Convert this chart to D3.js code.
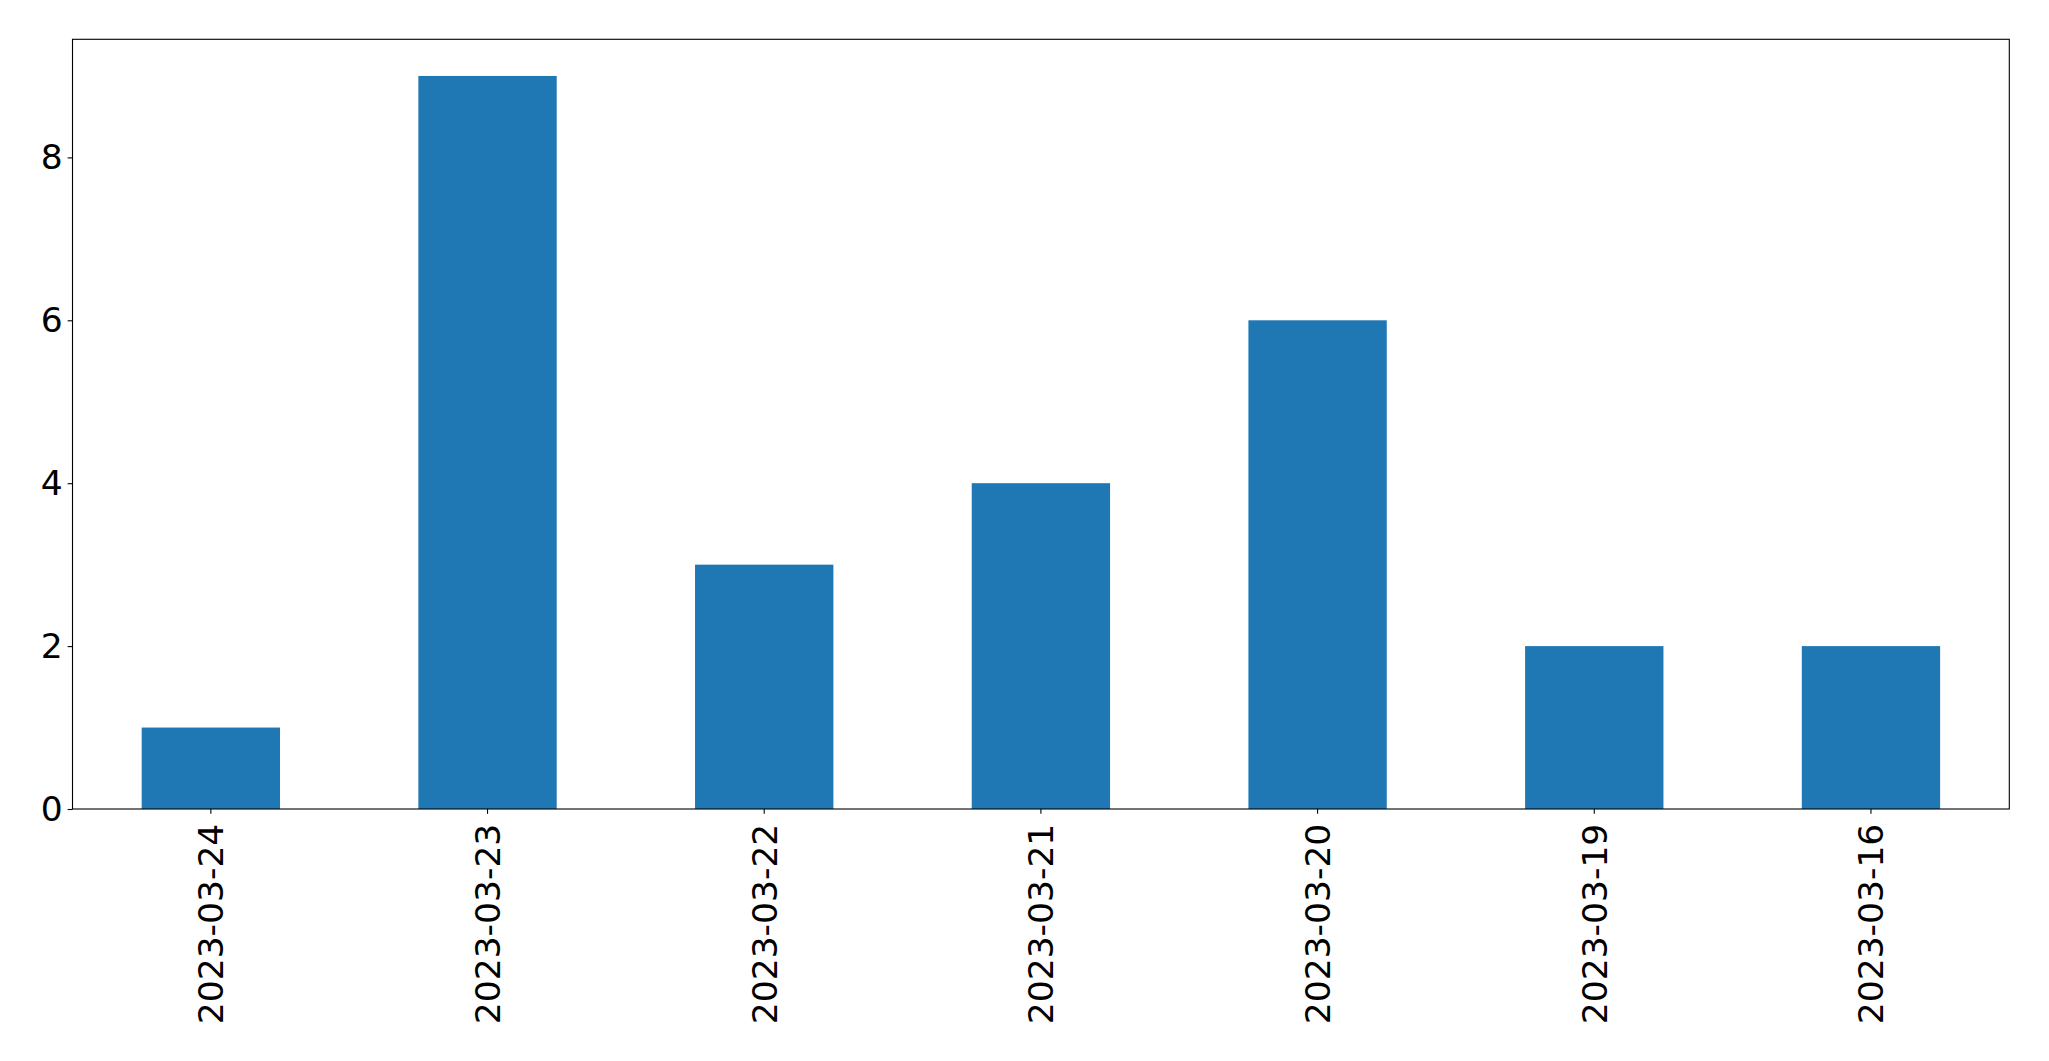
<!DOCTYPE html>
<html><head><meta charset="utf-8">
<script src="https://cdn.jsdelivr.net/npm/d3@7"></script>
<style>body{margin:0;background:#fff;} svg{display:block;}</style>
</head><body>
<svg id="chart" width="2049" height="1061"></svg>
<script>
const categories = ["2023-03-24","2023-03-23","2023-03-22","2023-03-21","2023-03-20","2023-03-19","2023-03-16"];
const values = [1, 9, 3, 4, 6, 2, 2];
const yTicks = [0, 2, 4, 6, 8];

const W = 2049, H = 1061;
const m = {left: 72.5, right: W - 2009.3, top: 39.3, bottom: H - 809};
const svg = d3.select("#chart");
const pw = W - m.left - m.right, ph = H - m.top - m.bottom;
const g = svg.append("g").attr("transform", `translate(${m.left},${m.top})`);

const x = d3.scaleBand().domain(categories).range([0, pw]).paddingInner(0.5).paddingOuter(0.25);
const y = d3.scaleLinear().domain([0, d3.max(values) * 1.05]).range([ph, 0]);

g.selectAll("rect.bar").data(values).join("rect")
  .attr("class", "bar")
  .attr("x", (d, i) => x(categories[i]))
  .attr("width", x.bandwidth())
  .attr("y", d => y(d))
  .attr("height", d => y(0) - y(d))
  .attr("fill", "#1f77b4");

const font = "'DejaVu Sans', sans-serif";
const fs = 34.5;
const tickLen = 4.86, pad = 4.86;

const yAxis = g.append("g").call(d3.axisLeft(y).tickValues(yTicks).tickSize(tickLen).tickPadding(pad).tickFormat(d3.format("d")));
yAxis.select(".domain").remove();
yAxis.selectAll("line").attr("stroke", "#000").attr("stroke-width", 1.1);
yAxis.selectAll("text").attr("font-family", font).attr("font-size", fs).attr("fill", "#000");

const xAxis = g.append("g").attr("transform", `translate(0,${ph})`)
  .call(d3.axisBottom(x).tickSize(tickLen).tickPadding(pad));
xAxis.select(".domain").remove();
xAxis.selectAll("line").attr("stroke", "#000").attr("stroke-width", 1.1);
xAxis.selectAll("text")
  .attr("font-family", font).attr("font-size", fs).attr("fill", "#000")
  .attr("transform", "rotate(-90)")
  .attr("text-anchor", "end")
  .attr("x", -(tickLen + pad + 5))
  .attr("y", 0)
  .attr("dy", "0.36em");

g.append("rect").attr("x", 0).attr("y", 0).attr("width", pw).attr("height", ph)
  .attr("fill", "none").attr("stroke", "#000").attr("stroke-width", 1.1);
</script>
</body></html>
